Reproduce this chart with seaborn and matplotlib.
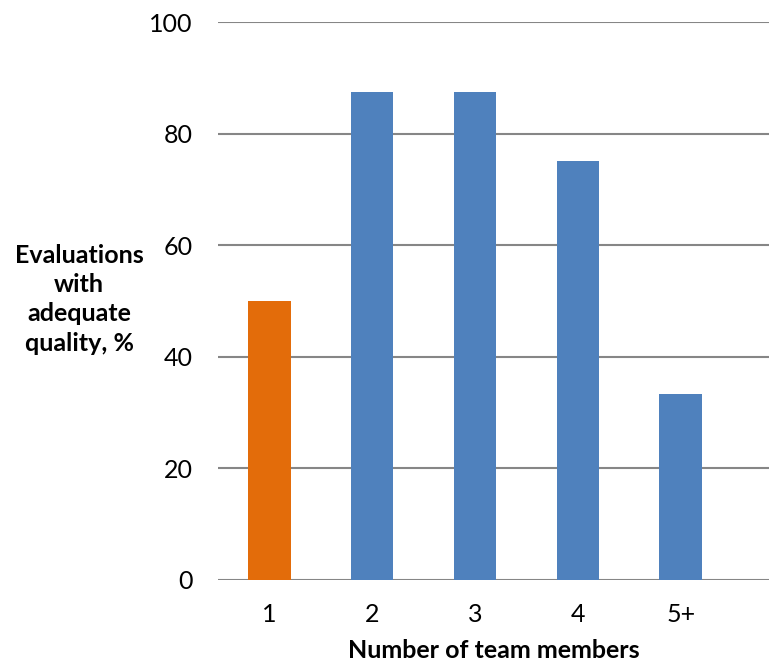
import matplotlib
matplotlib.use("Agg")
import matplotlib.pyplot as plt
import seaborn as sns
import pandas as pd

# Data
team_sizes = ["1", "2", "3", "4", "5+"]
adequate_pct = [50.0, 87.5, 87.5, 75.0, 33.3]
bar_colors = ["#E36C0A", "#4F81BD", "#4F81BD", "#4F81BD", "#4F81BD"]
y_ticks = [0, 20, 40, 60, 80, 100]

sns.set_theme(style="white")
plt.rcParams["font.family"] = ["Lato", "DejaVu Sans"]

df = pd.DataFrame({"members": team_sizes, "pct": adequate_pct})

fig = plt.figure(figsize=(7.69, 6.65), dpi=100)
ax = fig.add_axes([0.2831, 0.1283, 0.7169, 0.8386])

sns.barplot(data=df, x="members", y="pct", hue="members",
            palette=bar_colors, width=0.415, legend=False,
            saturation=1, linewidth=0, edgecolor="none",
            ax=ax, zorder=3)

ax.set_ylim(0, 100)
ax.set_xlim(-0.5, 4.857)
ax.set_yticks(y_ticks)
ax.set_yticklabels([str(t) for t in y_ticks], fontsize=18, color="#000000")
ax.set_xticks(range(len(team_sizes)))
ax.set_xticklabels(team_sizes, fontsize=18, color="#000000")
ax.tick_params(axis="both", length=0)
ax.tick_params(axis="y", pad=18)
ax.tick_params(axis="x", pad=17)

for s in ax.spines.values():
    s.set_visible(False)
ax.yaxis.grid(True, color="#868686", linewidth=1.5, zorder=0)
ax.xaxis.grid(False)
ax.set_axisbelow(True)

ax.set_xlabel("Number of team members", fontsize=18, fontweight="bold",
              labelpad=9, color="#000000")
ax.set_ylabel("")
fig.text(0.103, 0.550, "Evaluations\nwith\nadequate\nquality, %",
         ha="center", va="center", fontsize=18, fontweight="bold",
         linespacing=1.33, color="#000000")

fig.savefig("out.png", dpi=100)
